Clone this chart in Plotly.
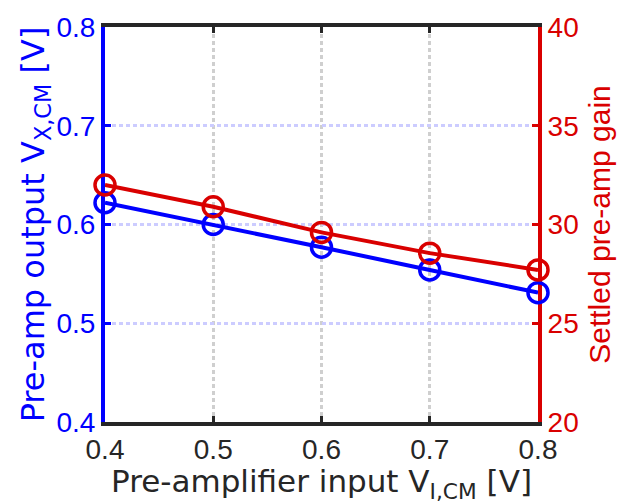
import plotly.graph_objects as go

# Pre-amplifier input common-mode voltage sweep [V]
v_in = [0.4, 0.5, 0.6, 0.7, 0.8]
# Pre-amp output common-mode voltage [V]
v_out = [0.622, 0.600, 0.577, 0.554, 0.531]
# Settled pre-amp gain
gain = [32.0, 30.9, 29.6, 28.55, 27.7]

x_ticks = [0.4, 0.5, 0.6, 0.7, 0.8]
left_ticks = [0.4, 0.5, 0.6, 0.7, 0.8]
right_ticks = [20, 25, 30, 35, 40]

BLUE = "#0000FF"
RED = "#D90000"
DARK = "#262626"

fig = go.Figure()
fig.add_trace(go.Scatter(
    x=v_in, y=v_out, mode="lines+markers", yaxis="y",
    line=dict(color=BLUE, width=4),
    marker=dict(symbol="circle-open", size=20, color=BLUE, line=dict(width=3.5, color=BLUE)),
    cliponaxis=False, showlegend=False,
))
fig.add_trace(go.Scatter(
    x=v_in, y=gain, mode="lines+markers", yaxis="y2",
    line=dict(color=RED, width=4),
    marker=dict(symbol="circle-open", size=20, color=RED, line=dict(width=3.5, color=RED)),
    cliponaxis=False, showlegend=False,
))

fig.update_layout(
    width=624, height=504,
    margin=dict(l=105, r=82, t=22, b=81),
    paper_bgcolor="white", plot_bgcolor="white",
    font=dict(family="Liberation Sans, Arial, sans-serif", size=28, color=DARK),
    xaxis=dict(
        range=[0.4, 0.8], tickvals=x_ticks, ticktext=[f"{v:.1f}" for v in x_ticks],
        showline=True, linecolor=DARK, linewidth=3.5, mirror="ticks",
        ticks="inside", ticklen=6, tickwidth=3, tickcolor=DARK,
        showgrid=True, gridcolor="#CFCFCF", gridwidth=3, griddash="4px,3px",
        zeroline=False, layer="below traces",
        tickfont=dict(size=28, color=DARK),
        title=dict(text="Pre-amplifier input V<sub>I,CM</sub> [V]",
                   font=dict(family="DejaVu Sans", size=31, color=DARK), standoff=5),
    ),
    yaxis=dict(
        range=[0.4, 0.8], tickvals=left_ticks, ticktext=[f"{v:.1f}" for v in left_ticks],
        showline=True, linecolor=BLUE, linewidth=4,
        ticks="inside", ticklen=6, tickwidth=3, tickcolor=BLUE,
        showgrid=True, gridcolor="#CCCCFF", gridwidth=3, griddash="4px,3px",
        zeroline=False, layer="below traces",
        tickfont=dict(size=28, color=BLUE),
        title=dict(text="Pre-amp output V<sub>X,CM</sub> [V]",
                   font=dict(family="DejaVu Sans", size=32, color=BLUE), standoff=3),
    ),
    yaxis2=dict(
        range=[20, 40], tickvals=right_ticks, overlaying="y", side="right",
        showline=True, linecolor=RED, linewidth=4,
        ticks="inside", ticklen=6, tickwidth=3, tickcolor=RED,
        showgrid=False, zeroline=False, layer="below traces",
        tickfont=dict(size=28, color=RED),
        title=dict(text="Settled pre-amp gain",
                   font=dict(family="Liberation Sans, Arial", size=30, color=RED), standoff=12),
    ),
)

fig.write_html("out.html")
